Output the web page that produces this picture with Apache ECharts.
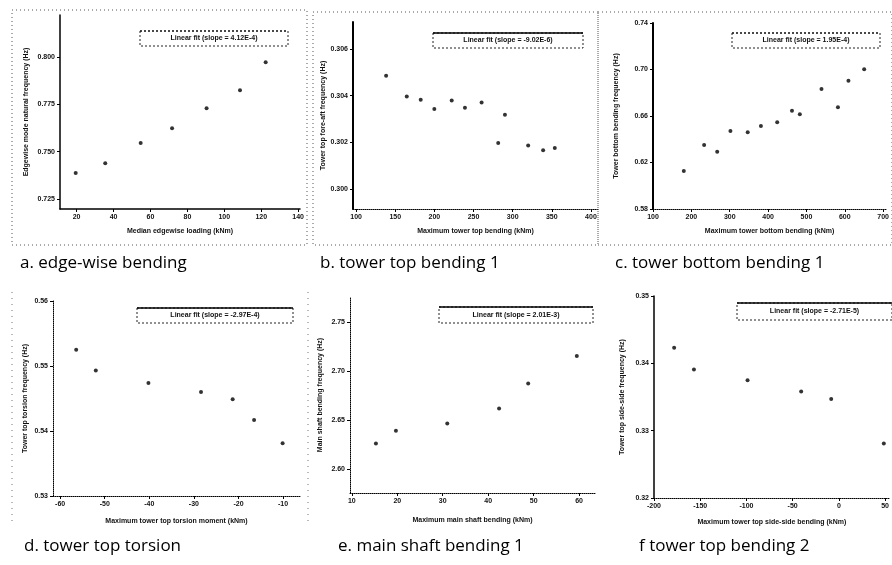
<!DOCTYPE html>
<html><head><meta charset="utf-8">
<script src="https://cdn.jsdelivr.net/npm/echarts@6/dist/echarts.min.js"></script>
<style>html,body{margin:0;padding:0;background:#fff}#c{width:892px;height:565px}</style>
</head><body><div id="c"></div>
<script>
// ---- data ----
const aX = [19.5, 35.5, 54.7, 71.7, 90.4, 108.5, 122.4];
const aY = [0.7387, 0.7439, 0.7545, 0.7623, 0.7729, 0.7824, 0.7971];
const bX = [138.3, 164.7, 182.5, 199.9, 222.1, 239.0, 260.3, 281.5, 290.1, 319.8, 338.9, 353.8];
const bY = [0.30485, 0.30396, 0.30382, 0.30343, 0.30379, 0.30348, 0.30371, 0.30197, 0.30318, 0.30187, 0.30166, 0.30176];
const cX = [180.3, 233.3, 267.4, 301.8, 346.9, 381.3, 423.8, 462.3, 482.8, 539.2, 582.1, 609.5, 650.5];
const cY = [0.6127, 0.6351, 0.6293, 0.6471, 0.6460, 0.6514, 0.6546, 0.6646, 0.6615, 0.6832, 0.6675, 0.6904, 0.7002];
const dX = [-56.4, -52.0, -40.2, -28.4, -21.3, -16.5, -10.1];
const dY = [0.5525, 0.5493, 0.5474, 0.5460, 0.5449, 0.5417, 0.5381];
const eX = [15.3, 19.7, 31.0, 42.4, 48.8, 59.5];
const eY = [2.6262, 2.6391, 2.6466, 2.6619, 2.6875, 2.7156];
const fX = [-178.2, -156.8, -98.8, -40.8, -8.3, 48.6];
const fY = [0.3423, 0.3391, 0.3375, 0.3358, 0.3347, 0.3281];

const aXTicks = [20, 40, 60, 80, 100, 120, 140];
const aYTicks = [0.725, 0.750, 0.775, 0.800];
const bXTicks = [100, 150, 200, 250, 300, 350, 400];
const bYTicks = [0.300, 0.302, 0.304, 0.306];
const cXTicks = [100, 200, 300, 400, 500, 600, 700];
const cYTicks = [0.58, 0.62, 0.66, 0.70, 0.74];
const dXTicks = [-60, -50, -40, -30, -20, -10];
const dYTicks = [0.53, 0.54, 0.55, 0.56];
const eXTicks = [10, 20, 30, 40, 50, 60];
const eYTicks = [2.60, 2.65, 2.70, 2.75];
const fXTicks = [-200, -150, -100, -50, 0, 50];
const fYTicks = [0.32, 0.33, 0.34, 0.35];

const fitLabels = [
  'Linear fit (slope = 4.12E-4)',
  'Linear fit (slope = -9.02E-6)',
  'Linear fit (slope = 1.95E-4)',
  'Linear fit (slope = -2.97E-4)',
  'Linear fit (slope = 2.01E-3)',
  'Linear fit (slope = -2.71E-5)'
];
const xNames = [
  'Median edgewise loading (kNm)',
  'Maximum tower top bending (kNm)',
  'Maximum tower bottom bending (kNm)',
  'Maximum tower top torsion moment (kNm)',
  'Maximum main shaft bending (kNm)',
  'Maximum tower top side-side bending (kNm)'
];
const yNames = [
  'Edgewise mode natural frequency (Hz)',
  'Tower top fore-aft frequency (Hz)',
  'Tower bottom bending frequency (Hz)',
  'Tower top torsion frequency (Hz)',
  'Main shaft bending frequency (Hz)',
  'Tower top side-side frequency (Hz)'
];
const captions = ['a. edge-wise bending', 'b. tower top bending 1', 'c. tower bottom bending 1',
                  'd. tower top torsion', 'e. main shaft bending 1', 'f tower top bending 2'];

// ---- layout / style ----
const P = [
  {x:aX, y:aY, xt:aXTicks, yt:aYTicks, xd:0, yd:3, left:60, top:15, w:240, h:194, xMin:11, xMax:141, yMin:0.7197, yMax:0.8221, yLine:'solid', yW:1.5, xLine:'solid', xW:1.5, yGap:30, xGap:19, leg:[140,31,148,15], cap:[20,263]},
  {x:bX, y:bY, xt:bXTicks, yt:bYTicks, xd:0, yd:3, left:353, top:22, w:245, h:187, xMin:96, xMax:409, yMin:0.29915, yMax:0.30715, yLine:'solid', yW:2, xLine:'dotted', xW:1, yGap:24, xGap:19, leg:[433,33,150,15], cap:[320,263]},
  {x:cX, y:cY, xt:cXTicks, yt:cYTicks, xd:0, yd:2, left:653, top:23, w:237, h:186, xMin:100, xMax:708, yMin:0.58, yMax:0.74, yLine:'solid', yW:2, xLine:'dotted', xW:1, yGap:33, xGap:19, leg:[732,33,148,15], cap:[615,263]},
  {x:dX, y:dY, xt:dXTicks, yt:dYTicks, xd:0, yd:2, left:53, top:301, w:247, h:195, xMin:-61.6, xMax:-6.2, yMin:0.53, yMax:0.56, yLine:'dotted', yW:1, xLine:'dotted', xW:1, yGap:24, xGap:22, leg:[137,308,156,15], cap:[24,546]},
  {x:eX, y:eY, xt:eXTicks, yt:eYTicks, xd:0, yd:2, left:350, top:297, w:245, h:196, xMin:9.6, xMax:63.5, yMin:2.5755, yMax:2.776, yLine:'dotted', yW:1, xLine:'dotted', xW:1, yGap:26, xGap:24, leg:[439,307,154,16], cap:[338,546]},
  {x:fX, y:fY, xt:fXTicks, yt:fYTicks, xd:0, yd:2, left:654, top:296, w:236, h:202, xMin:-200, xMax:55, yMin:0.32, yMax:0.35, yLine:'solid', yW:1.5, xLine:'dotted', xW:1, yGap:28, xGap:21, leg:[737,303,155,17], cap:[639,546]}
];

const tickFont = {fontSize:7, fontWeight:'bold', color:'#111', fontFamily:'Liberation Sans'};
const nameFont = {fontSize:7, fontWeight:'bold', color:'#111', fontFamily:'Liberation Sans'};

const grid = [], xAxis = [], yAxis = [], series = [], graphic = [];
P.forEach((p, i) => {
  grid.push({left:p.left, top:p.top, width:p.w, height:p.h, containLabel:false});
  xAxis.push({
    type:'value', gridIndex:i, min:p.xMin, max:p.xMax,
    name:xNames[i], nameLocation:'middle', nameGap:p.xGap, nameTextStyle:nameFont,
    axisLine:{show:true, onZero:false, lineStyle:{color:'#000', width:p.xW, type:p.xLine}},
    axisTick:{show:true, length:3, customValues:p.xt, lineStyle:{color:'#000'}},
    axisLabel:{customValues:p.xt, margin:5, formatter:v => (+v).toFixed(p.xd), ...tickFont},
    splitLine:{show:false}
  });
  yAxis.push({
    type:'value', gridIndex:i, min:p.yMin, max:p.yMax,
    name:yNames[i], nameLocation:'middle', nameGap:p.yGap, nameRotate:90, nameTextStyle:nameFont,
    axisLine:{show:true, onZero:false, lineStyle:{color:'#000', width:p.yW, type:p.yLine}},
    axisTick:{show:true, length:3, customValues:p.yt, lineStyle:{color:'#000'}},
    axisLabel:{customValues:p.yt, margin:5, formatter:v => (+v).toFixed(p.yd), ...tickFont},
    splitLine:{show:false}
  });
  series.push({
    type:'scatter', xAxisIndex:i, yAxisIndex:i, symbol:'circle', symbolSize:4,
    itemStyle:{color:'#000'}, data:p.x.map((v, k) => [v, p.y[k]])
  });
  const [lx, ly, lw, lh] = p.leg;
  graphic.push({type:'rect', shape:{x:lx, y:ly, width:lw, height:lh},
    style:{fill:'#fff', stroke:'#222', lineWidth:1, lineDash:[2,2]}, z:10});
  graphic.push({type:'line', shape:{x1:lx, y1:ly, x2:lx+lw, y2:ly},
    style:{stroke:'#000', lineWidth: i===0||i===2 ? 1 : 1.5, lineDash: i===0||i===2 ? [2,2] : null}, z:11});
  graphic.push({type:'text', x:lx+lw/2, y:ly+lh/2,
    style:{text:fitLabels[i], fill:'#111', font:'bold 7px "Liberation Sans"', align:'center', verticalAlign:'middle'}, z:12});
  graphic.push({type:'text', x:p.cap[0], y:p.cap[1],
    style:{text:captions[i], fill:'#000', font:'17px "Open Sans"', verticalAlign:'middle'}});
});
// dotted panel frames (top row) and faint left edges (bottom row)
[[12,10,295,235],[313,12,285,233],[598,12,294,233]].forEach(r => {
  graphic.push({type:'rect', shape:{x:r[0], y:r[1], width:r[2], height:r[3]},
    style:{fill:null, stroke:'#555', lineWidth:1, lineDash:[1,3]}, z:1});
});
[[12,292,12,525],[308,292,308,525]].forEach(l => {
  graphic.push({type:'line', shape:{x1:l[0], y1:l[1], x2:l[2], y2:l[3]},
    style:{stroke:'#777', lineWidth:1, lineDash:[1,5]}, z:1});
});

const chart = echarts.init(document.getElementById('c'));
chart.setOption({animation:false, backgroundColor:'#fff', grid, xAxis, yAxis, series, graphic});
</script></body></html>
